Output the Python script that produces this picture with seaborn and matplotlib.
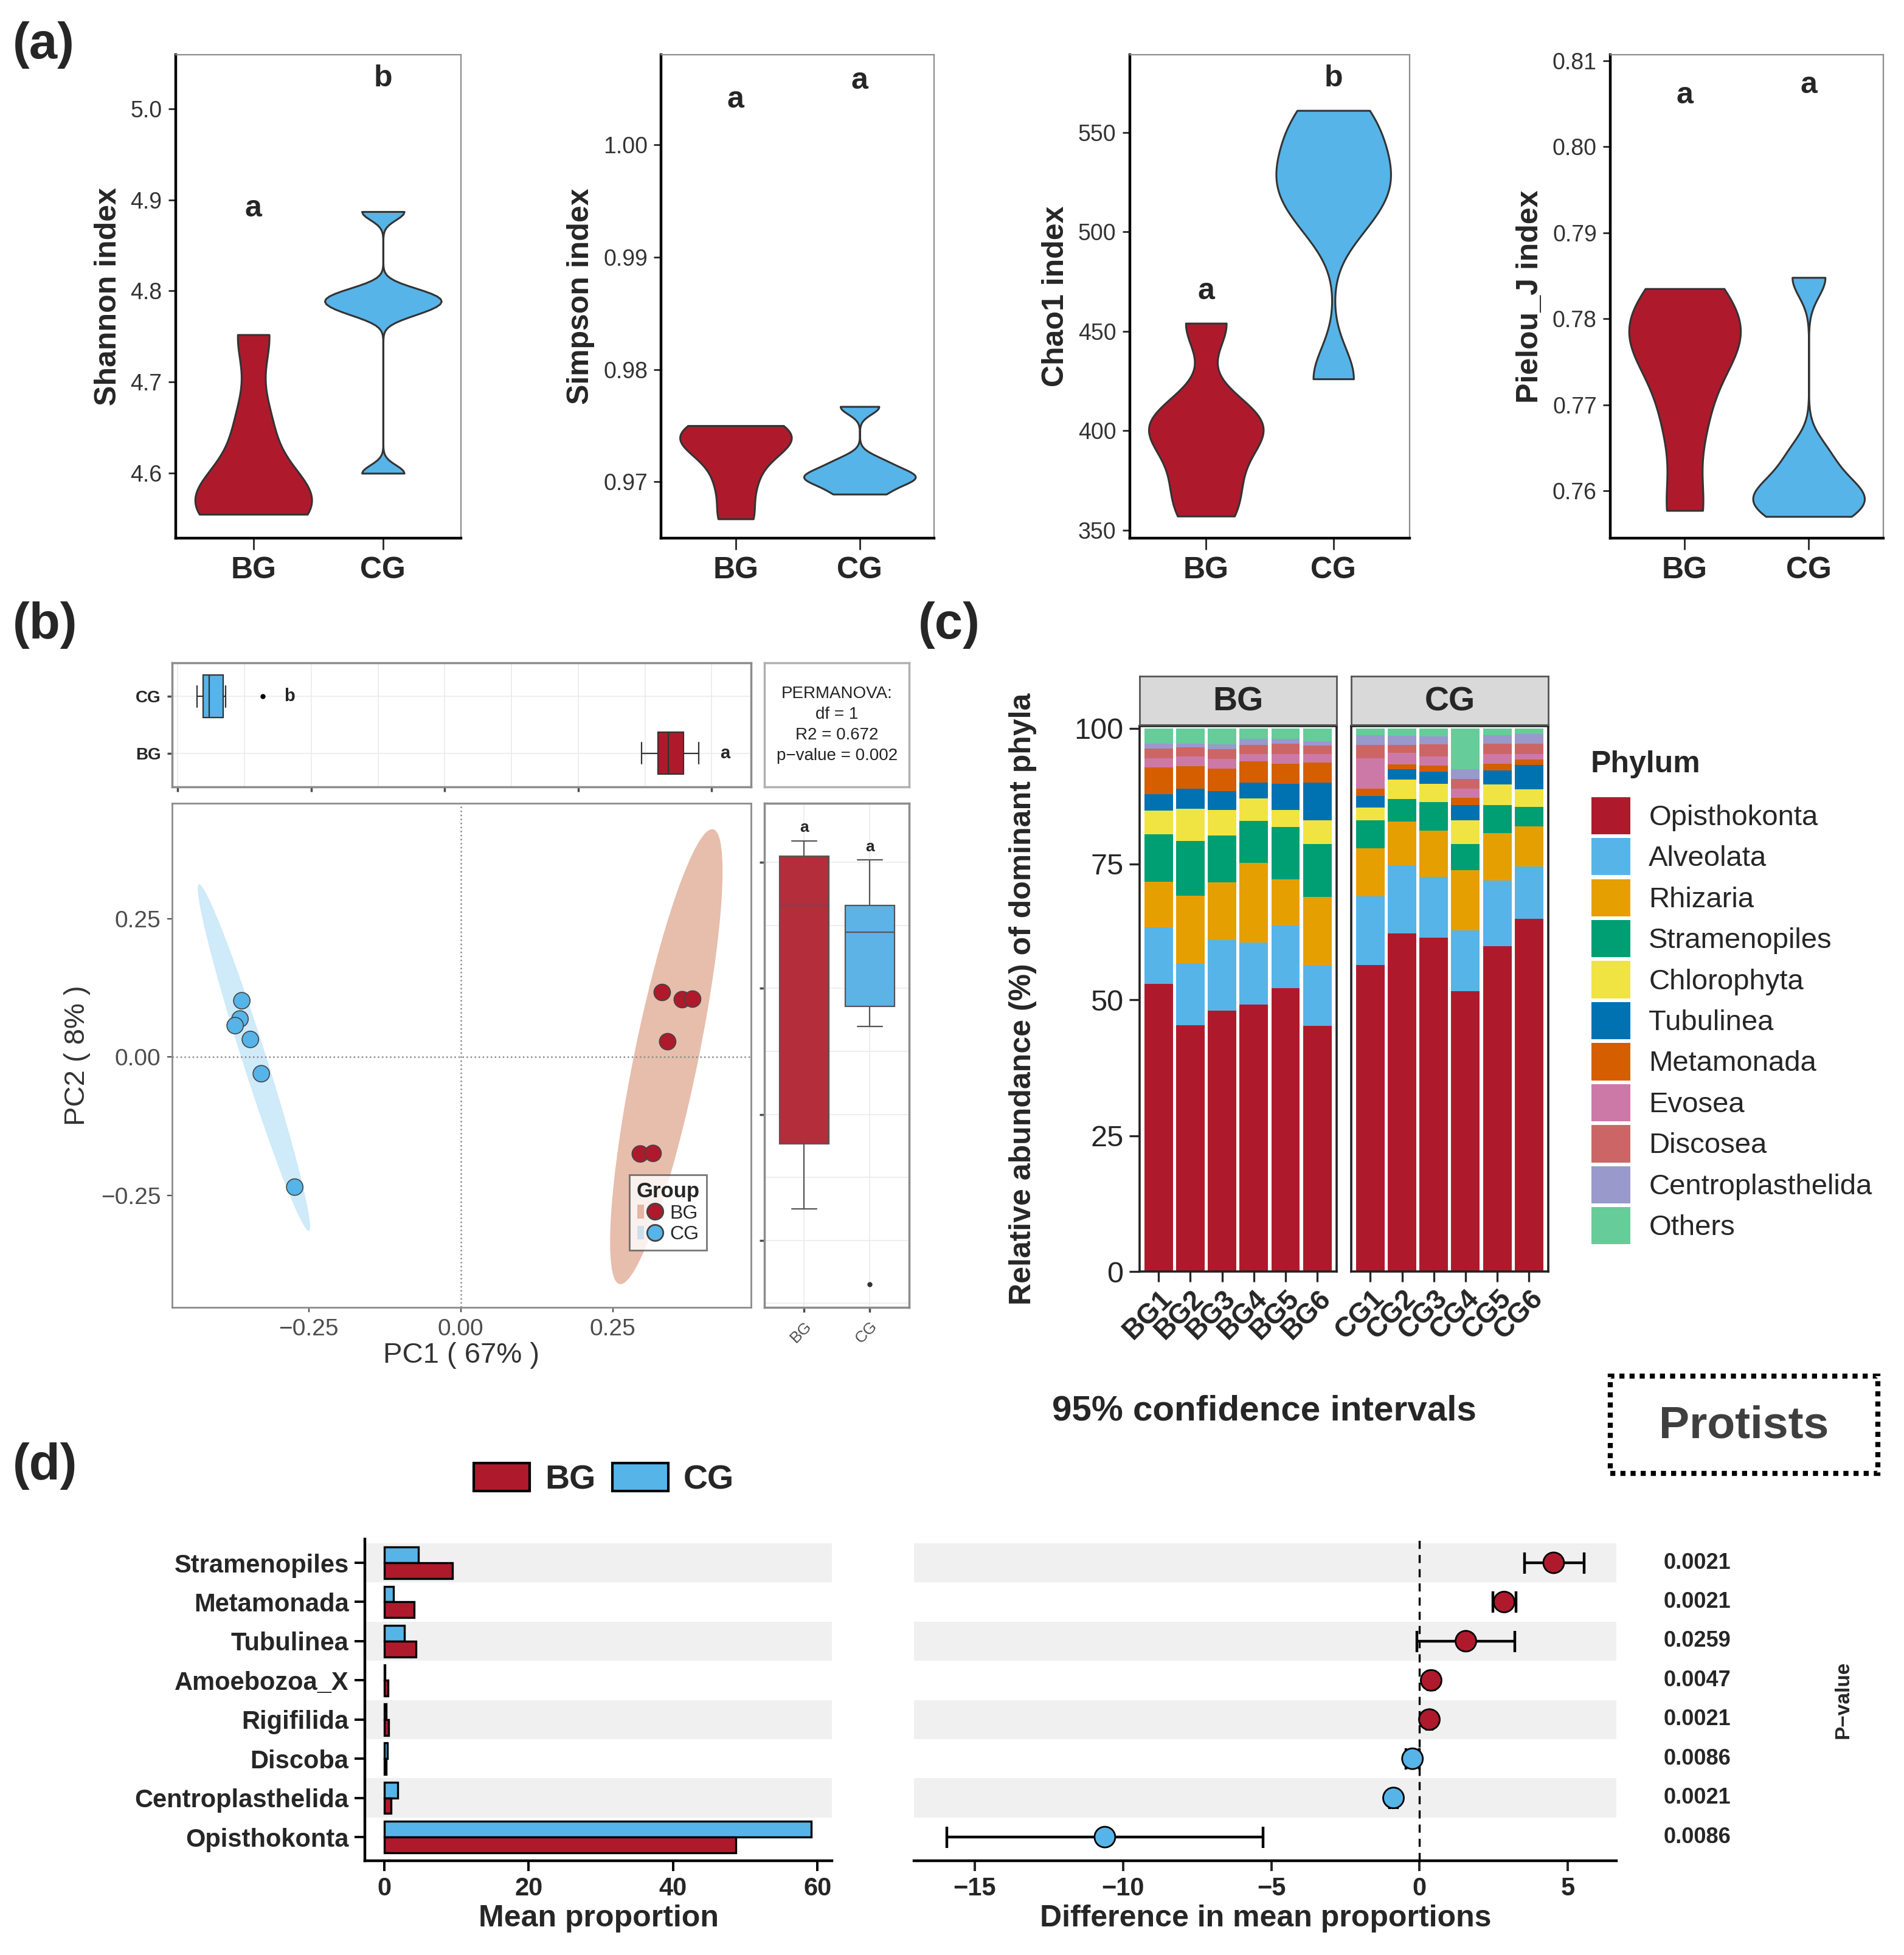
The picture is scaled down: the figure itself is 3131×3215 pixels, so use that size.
import numpy as np
import pandas as pd
import matplotlib
matplotlib.use("Agg")
import matplotlib.pyplot as plt
import matplotlib.transforms as mtransforms
from matplotlib.patches import Ellipse, Patch, Rectangle
from matplotlib.lines import Line2D
from matplotlib.legend_handler import HandlerTuple
from matplotlib.ticker import MultipleLocator
import seaborn as sns

sns.set_theme(style="ticks")
plt.rcParams["font.family"] = ["Liberation Sans", "DejaVu Sans"]
plt.rcParams["axes.unicode_minus"] = True

RED = "#AE1A2C"
BLUE = "#56B4E9"
GROUP_PAL = {"BG": RED, "CG": BLUE}

# ---------------- data ----------------
# (a) alpha diversity, six samples per group
alpha_group = ["BG"] * 6 + ["CG"] * 6
shannon = [4.555, 4.561, 4.572, 4.590, 4.655, 4.752,
           4.600, 4.776, 4.786, 4.791, 4.800, 4.887]
simpson = [0.9667, 0.9700, 0.9728, 0.9737, 0.9744, 0.9750,
           0.9689, 0.9700, 0.9704, 0.9708, 0.9718, 0.9767]
chao1 = [357, 375, 395, 402, 410, 454,
         426, 505, 521, 530, 546, 561]
pielou = [0.7577, 0.7680, 0.7755, 0.7775, 0.7800, 0.7835,
          0.7570, 0.7584, 0.7594, 0.7608, 0.7642, 0.7848]

# (b) PCoA scores
pc_group = ["BG"] * 6 + ["CG"] * 6
pc1 = [0.331, 0.364, 0.381, 0.340, 0.295, 0.316,
       -0.360, -0.363, -0.371, -0.346, -0.328, -0.273]
pc2 = [0.117, 0.104, 0.105, 0.028, -0.175, -0.174,
       0.102, 0.069, 0.057, 0.032, -0.030, -0.235]

# (c) relative abundance of dominant phyla
sample_ids = ["BG1", "BG2", "BG3", "BG4", "BG5", "BG6",
              "CG1", "CG2", "CG3", "CG4", "CG5", "CG6"]
phyla = ["Opisthokonta", "Alveolata", "Rhizaria", "Stramenopiles", "Chlorophyta",
         "Tubulinea", "Metamonada", "Evosea", "Discosea", "Centroplasthelida", "Others"]
phyla_colors = ["#AE1A2C", "#56B4E9", "#E69F00", "#009E73", "#F0E442", "#0072B2",
                "#D55E00", "#CC79A7", "#CC6666", "#9999CC", "#66CC99"]
opisthokonta = [52.9, 45.3, 48.0, 49.1, 52.2, 45.2, 56.4, 62.2, 61.5, 51.6, 59.9, 64.9]
alveolata = [10.4, 11.4, 13.0, 11.4, 11.5, 11.1, 12.7, 12.6, 11.1, 11.2, 12.1, 9.7]
rhizaria = [8.5, 12.5, 10.6, 14.7, 8.5, 12.6, 8.8, 8.0, 8.5, 11.1, 8.7, 7.3]
stramenopiles = [8.7, 10.1, 8.7, 7.7, 9.6, 9.8, 5.1, 4.2, 5.3, 4.8, 5.1, 3.6]
chlorophyta = [4.3, 5.9, 4.6, 4.2, 3.1, 4.4, 2.4, 3.5, 3.4, 4.4, 3.9, 3.3]
tubulinea = [3.1, 3.7, 3.5, 2.9, 4.9, 6.9, 2.1, 1.9, 2.2, 2.8, 2.5, 4.4]
metamonada = [4.9, 4.1, 4.2, 3.9, 3.7, 3.7, 1.4, 1.0, 1.1, 1.3, 1.3, 1.0]
evosea = [1.7, 1.8, 1.8, 1.3, 1.7, 1.5, 5.6, 2.1, 1.7, 1.7, 1.7, 1.0]
discosea = [1.8, 1.7, 1.7, 1.7, 2.0, 1.6, 2.4, 1.4, 2.2, 1.8, 1.9, 2.0]
centroplasthelida = [0.8, 0.7, 0.9, 1.1, 0.8, 0.8, 1.8, 1.7, 1.5, 1.8, 1.6, 1.8]
others = [2.9, 2.8, 3.0, 2.0, 2.0, 2.4, 1.3, 1.4, 1.5, 7.5, 1.3, 1.0]

# (d) STAMP-style comparison
taxa_d = ["Stramenopiles", "Metamonada", "Tubulinea", "Amoebozoa_X",
          "Rigifilida", "Discoba", "Centroplasthelida", "Opisthokonta"]
mean_bg = [9.44, 4.20, 4.40, 0.55, 0.60, 0.30, 1.00, 48.70]
mean_cg = [4.76, 1.30, 2.80, 0.15, 0.25, 0.50, 1.90, 59.10]
diff_mean = [4.52, 2.85, 1.56, 0.39, 0.33, -0.24, -0.88, -10.61]
ci_low = [3.53, 2.48, -0.09, 0.27, 0.24, -0.46, -1.02, -15.94]
ci_high = [5.55, 3.25, 3.22, 0.51, 0.42, 0.00, -0.74, -5.28]
p_values = ["0.0021", "0.0021", "0.0259", "0.0047", "0.0021", "0.0086", "0.0021", "0.0086"]

# ---------------- layout helpers (reference pixels at half scale) ----------------
W, H = 1528.8, 1569.8


def rect(x0, y0, x1, y1):
    return [x0 / W, 1 - y1 / H, (x1 - x0) / W, (y1 - y0) / H]


def fx(x):
    return x / W


def fy(y):
    return 1 - y / H


def nrd0(kde):
    # R's default violin bandwidth
    d = np.asarray(kde.dataset).ravel()
    sd = d.std(ddof=1)
    q75, q25 = np.percentile(d, [75, 25])
    lo = min(sd, (q75 - q25) / 1.34)
    return 0.9 * lo * len(d) ** -0.2 / sd


def conf_ellipse(x, y, scale, **kw):
    cov = np.cov(x, y)
    vals, vecs = np.linalg.eigh(cov)
    order = vals.argsort()[::-1]
    vals, vecs = vals[order], vecs[:, order]
    angle = np.degrees(np.arctan2(vecs[1, 0], vecs[0, 0]))
    w, h = 2 * scale * np.sqrt(vals)
    return Ellipse((np.mean(x), np.mean(y)), w, h, angle=angle, **kw)


fig = plt.figure(figsize=(3131 / 200, 3215 / 200), dpi=200)
fig.patch.set_facecolor("white")

# ---------------- (a) violins ----------------
alpha_specs = [
    ("Shannon index", shannon, (4.529, 5.059), [4.6, 4.7, 4.8, 4.9, 5.0], "{:.1f}",
     ("a", "b"), (4.890, 5.033), (141, 370)),
    ("Simpson index", simpson, (0.965, 1.008), [0.97, 0.98, 0.99, 1.00], "{:.2f}",
     ("a", "a"), (1.0040, 1.0057), (531, 750)),
    ("Chao1 index", chao1, (346, 589), [350, 400, 450, 500, 550], "{:.0f}",
     ("a", "b"), (470, 577), (907, 1132)),
    ("Pielou_J index", pielou, (0.7545, 0.8107), [0.76, 0.77, 0.78, 0.79, 0.80, 0.81], "{:.2f}",
     ("a", "a"), (0.8060, 0.8072), (1293, 1512)),
]

for label, vals, ylim, ticks, fmt, letters, letter_y, (x0, x1) in alpha_specs:
    ax = fig.add_axes(rect(x0, 44, x1, 432))
    df = pd.DataFrame({"Group": alpha_group, "value": vals})
    sns.violinplot(data=df, x="Group", y="value", hue="Group", palette=GROUP_PAL,
                   saturation=1, cut=0, inner=None, width=0.9, linewidth=1.1,
                   linecolor="#333333", bw_method=nrd0, legend=False, ax=ax)
    ax.set_xlim(-0.6, 1.6)
    ax.set_ylim(*ylim)
    ax.set_yticks(ticks)
    ax.set_yticklabels([fmt.format(t) for t in ticks])
    ax.set_xlabel("")
    ax.set_ylabel(label, fontsize=18, fontweight="bold", labelpad=5)
    ax.tick_params(axis="y", labelsize=13.5, labelcolor="#333333", length=4.5, width=1)
    ax.tick_params(axis="x", labelsize=18, length=7, width=1, pad=4)
    for t in ax.get_xticklabels():
        t.set_fontweight("bold")
    for s in ["top", "right"]:
        ax.spines[s].set_color("#8C8C8C")
        ax.spines[s].set_linewidth(0.8)
    for s in ["left", "bottom"]:
        ax.spines[s].set_color("black")
        ax.spines[s].set_linewidth(1.6)
    for xi, (lt, ly) in enumerate(zip(letters, letter_y)):
        ax.text(xi, ly, lt, ha="center", va="center", fontsize=18, fontweight="bold")

# ---------------- (b) PCoA ----------------
pcoa = pd.DataFrame({"Group": pc_group, "PC1": pc1, "PC2": pc2})
ELL_FILL = {"BG": ("#D17D5B", 0.5), "CG": (BLUE, 0.28)}
ELL_SCALE = {"BG": 2.95, "CG": 2.55}

ax_m = fig.add_axes(rect(138, 645, 603, 1050))
for g in ["CG", "BG"]:
    sub = pcoa[pcoa["Group"] == g]
    col, al = ELL_FILL[g]
    ax_m.add_patch(conf_ellipse(sub["PC1"].values, sub["PC2"].values, ELL_SCALE[g],
                                facecolor=col, alpha=al, edgecolor="none", zorder=1))
ax_m.axvline(0, color="#8C8C8C", ls=":", lw=0.9, zorder=2)
ax_m.axhline(0, color="#8C8C8C", ls=":", lw=0.9, zorder=2)
sns.scatterplot(data=pcoa, x="PC1", y="PC2", hue="Group", palette=GROUP_PAL, s=95,
                edgecolor="#444444", linewidth=0.6, legend=False, ax=ax_m, zorder=3)
ax_m.set_xlim(-0.475, 0.477)
ax_m.set_ylim(-0.453, 0.459)
ax_m.set_xticks([-0.25, 0, 0.25])
ax_m.set_xticklabels(["\u22120.25", "0.00", "0.25"])
ax_m.set_yticks([-0.25, 0, 0.25])
ax_m.set_yticklabels(["\u22120.25", "0.00", "0.25"])
ax_m.tick_params(labelsize=14, labelcolor="#4D4D4D", color="#4D4D4D", length=3, width=0.8)
ax_m.set_xlabel("PC1 ( 67% )", fontsize=17, color="#333333", labelpad=1)
ax_m.set_ylabel("PC2 ( 8% )", fontsize=17, color="#333333", labelpad=6)
for s in ax_m.spines.values():
    s.set_color("#8C8C8C")
    s.set_linewidth(1)
handles = [(Patch(facecolor=ELL_FILL[g][0], alpha=ELL_FILL[g][1], edgecolor="none"),
            Line2D([], [], marker="o", ls="", markerfacecolor=GROUP_PAL[g],
                   markeredgecolor="#444444", markersize=9.5)) for g in ["BG", "CG"]]
leg = ax_m.legend(handles, ["BG", "CG"], handler_map={tuple: HandlerTuple(ndivide=None)},
                  title="Group", loc="lower right", bbox_to_anchor=(0.94, 0.094),
                  fontsize=11.5, title_fontproperties={"weight": "bold", "size": 12.5},
                  frameon=True, fancybox=False, edgecolor="#555555", borderpad=0.35,
                  handlelength=1.1, handletextpad=0.6, labelspacing=0.15)
leg.get_frame().set_linewidth(1)

# top marginal box (PC1)
ax_t = fig.add_axes(rect(138, 532, 603, 632))
sns.boxplot(data=pcoa, x="PC1", y="Group", order=["CG", "BG"], hue="Group",
            palette=GROUP_PAL, saturation=1, width=0.75, linecolor="#333333",
            linewidth=0.8, fliersize=2, legend=False, ax=ax_t,
            flierprops=dict(marker="o", markerfacecolor="black", markeredgecolor="black"))
ax_t.set_xlim(-0.409, 0.459)
ax_t.set_ylim(1.6, -0.6)
ax_t.set_xticks([-0.4, -0.2, 0, 0.2, 0.4])
ax_t.xaxis.set_minor_locator(MultipleLocator(0.1))
ax_t.set_xticklabels([])
ax_t.grid(True, which="both", color="#EBEBEB", lw=0.6)
ax_t.set_axisbelow(True)
ax_t.set_xlabel("")
ax_t.set_ylabel("")
ax_t.tick_params(axis="y", labelsize=10, length=3, color="#4D4D4D")
ax_t.tick_params(axis="x", which="major", length=3, color="#4D4D4D")
ax_t.tick_params(axis="x", which="minor", length=0)
for t in ax_t.get_yticklabels():
    t.set_fontweight("bold")
for s in ax_t.spines.values():
    s.set_color("#8C8C8C")
ax_t.text(-0.233, 0, "b", ha="center", va="center", fontsize=10.5, fontweight="bold")
ax_t.text(0.420, 1, "a", ha="center", va="center", fontsize=10.5, fontweight="bold")

# PERMANOVA box
ax_i = fig.add_axes(rect(614, 532, 730, 632))
ax_i.set_xticks([])
ax_i.set_yticks([])
for s in ax_i.spines.values():
    s.set_color("#B0B0B0")
ax_i.text(0.5, 0.5, "PERMANOVA:\ndf = 1\nR2 = 0.672\np\u2212value = 0.002",
          ha="center", va="center", fontsize=10, linespacing=1.4, color="#222222",
          transform=ax_i.transAxes)

# right marginal box (PC2)
ax_r = fig.add_axes(rect(614, 645, 730, 1050))
sns.boxplot(data=pcoa, x="Group", y="PC2", order=["BG", "CG"], hue="Group",
            palette={"BG": "#B32D3A", "CG": "#5DB3E6"}, saturation=1, width=0.75,
            linecolor="#555555", linewidth=0.8, fliersize=2, legend=False, ax=ax_r,
            flierprops=dict(marker="o", markerfacecolor="#333333", markeredgecolor="#333333"))
ax_r.set_xlim(-0.6, 1.6)
ax_r.set_ylim(-0.2535, 0.147)
ax_r.set_yticks([-0.2, -0.1, 0, 0.1])
ax_r.yaxis.set_minor_locator(MultipleLocator(0.05))
ax_r.set_yticklabels([])
ax_r.grid(True, which="both", color="#EBEBEB", lw=0.6)
ax_r.set_axisbelow(True)
ax_r.set_xlabel("")
ax_r.set_ylabel("")
ax_r.tick_params(axis="y", which="major", length=3, color="#4D4D4D")
ax_r.tick_params(axis="y", which="minor", length=0)
ax_r.tick_params(axis="x", length=3, color="#4D4D4D", labelsize=9.5, labelcolor="#4D4D4D")
plt.setp(ax_r.get_xticklabels(), rotation=45, ha="right", rotation_mode="anchor")
for s in ax_r.spines.values():
    s.set_color("#8C8C8C")
ax_r.text(0, 0.1277, "a", ha="center", va="center", fontsize=9.5, fontweight="bold")
ax_r.text(1, 0.112, "a", ha="center", va="center", fontsize=9.5, fontweight="bold")

# ---------------- (c) stacked composition ----------------
comp = pd.DataFrame([opisthokonta, alveolata, rhizaria, stramenopiles, chlorophyta, tubulinea,
                     metamonada, evosea, discosea, centroplasthelida, others],
                    index=phyla, columns=sample_ids).T

facets = [("BG", sample_ids[:6], (915, 1073)), ("CG", sample_ids[6:], (1085, 1243))]
for fi, (gname, ids, (x0, x1)) in enumerate(facets):
    ax = fig.add_axes(rect(x0, 583, x1, 1021))
    sub = comp.loc[ids]
    xpos = np.arange(len(ids))
    bottom = np.zeros(len(ids))
    for ph, col in zip(phyla, phyla_colors):
        ax.bar(xpos, sub[ph].values, bottom=bottom, width=0.9, color=col, linewidth=0)
        bottom += sub[ph].values
    ax.set_xlim(-0.6, 5.6)
    ax.set_ylim(0, 100.4)
    ax.set_xticks(xpos)
    ax.set_xticklabels(ids, rotation=45, ha="right", rotation_mode="anchor",
                       fontsize=16.5, fontweight="bold")
    ax.tick_params(axis="x", length=6, width=1.2, pad=2)
    if fi == 0:
        ax.set_yticks([0, 25, 50, 75, 100])
        ax.tick_params(axis="y", labelsize=17.5, length=6, width=1.2)
        ax.set_ylabel("Relative abundance (%) of dominant phyla", fontsize=18,
                      fontweight="bold", labelpad=22)
    else:
        ax.set_yticks([])
    for s in ax.spines.values():
        s.set_color("#222222")
        s.set_linewidth(1.3)
    ax_s = fig.add_axes(rect(x0, 543, x1, 582))
    ax_s.set_facecolor("#D9D9D9")
    ax_s.set_xticks([])
    ax_s.set_yticks([])
    for s in ax_s.spines.values():
        s.set_color("#555555")
        s.set_linewidth(1)
    ax_s.text(0.5, 0.47, gname, ha="center", va="center", fontsize=20, fontweight="bold",
              transform=ax_s.transAxes)

phy_handles = [Patch(facecolor=c, edgecolor="none") for c in phyla_colors]
fig.text(fx(1277), fy(614), "Phylum", ha="left", va="center", fontsize=18, fontweight="bold")
fig.legend(phy_handles, phyla, loc="upper left", bbox_to_anchor=(fx(1278), fy(640)),
           frameon=False, fontsize=17,
           handlelength=1.34, handleheight=1.62, labelspacing=0.13, handletextpad=0.65,
           borderaxespad=0, borderpad=0)

# ---------------- (d) mean proportions and differences ----------------
bars = pd.DataFrame({"taxon": taxa_d * 2,
                     "Group": ["BG"] * len(taxa_d) + ["CG"] * len(taxa_d),
                     "value": mean_bg + mean_cg})
ax_b = fig.add_axes(rect(293, 1236, 668, 1494))
for i in range(0, len(taxa_d), 2):
    ax_b.axhspan(i - 0.5, i + 0.5, color="#F0F0F0", zorder=0, lw=0)
sns.barplot(data=bars, x="value", y="taxon", hue="Group", order=taxa_d,
            hue_order=["CG", "BG"], palette=GROUP_PAL, saturation=1, orient="h",
            width=0.8, edgecolor="black", linewidth=1.2, legend=False, ax=ax_b)
ax_b.set_ylim(7.6, -0.6)
ax_b.set_xlim(-2.65, 62)
ax_b.set_xticks([0, 20, 40, 60])
ax_b.set_xlabel("Mean proportion", fontsize=18, fontweight="bold", labelpad=2)
ax_b.set_ylabel("")
ax_b.tick_params(axis="both", labelsize=15, length=6, width=1.4, color="black")
for t in ax_b.get_xticklabels() + ax_b.get_yticklabels():
    t.set_fontweight("bold")
for s in ["top", "right"]:
    ax_b.spines[s].set_visible(False)
for s in ["left", "bottom"]:
    ax_b.spines[s].set_linewidth(1.6)
    ax_b.spines[s].set_color("black")

ax_c = fig.add_axes(rect(734, 1236, 1298, 1494))
for i in range(0, len(taxa_d), 2):
    ax_c.axhspan(i - 0.5, i + 0.5, color="#F0F0F0", zorder=0, lw=0)
ypos = np.arange(len(taxa_d))
dm = np.array(diff_mean)
ax_c.axvline(0, color="black", ls=(0, (4, 3)), lw=1.2, zorder=1)
ax_c.errorbar(dm, ypos, xerr=[dm - np.array(ci_low), np.array(ci_high) - dm], fmt="none",
              ecolor="black", elinewidth=1.6, capsize=6.3, capthick=1.6, zorder=2)
diff_df = pd.DataFrame({"diff": dm, "y": ypos,
                        "enriched": np.where(dm > 0, "BG", "CG")})
sns.scatterplot(data=diff_df, x="diff", y="y", hue="enriched", palette=GROUP_PAL, s=150,
                edgecolor="black", linewidth=1.0, legend=False, ax=ax_c, zorder=3)
ax_c.set_ylim(7.6, -0.6)
ax_c.set_xlim(-17.04, 6.64)
ax_c.set_xticks([-15, -10, -5, 0, 5])
ax_c.set_yticks([])
ax_c.set_xlabel("Difference in mean proportions", fontsize=18, fontweight="bold", labelpad=2)
ax_c.set_ylabel("")
ax_c.tick_params(axis="x", labelsize=15, length=6, width=1.4)
for t in ax_c.get_xticklabels():
    t.set_fontweight("bold")
for s in ["top", "right", "left"]:
    ax_c.spines[s].set_visible(False)
ax_c.spines["bottom"].set_linewidth(1.6)
ax_c.spines["bottom"].set_color("black")
blend = mtransforms.blended_transform_factory(ax_c.transAxes, ax_c.transData)
for i, p in enumerate(p_values):
    ax_c.text(1.115, i, p, transform=blend, ha="center", va="center",
              fontsize=13, fontweight="bold")

fig.text(fx(1480), fy(1365), "P\u2212value", rotation=90, ha="center", va="center",
         fontsize=12, fontweight="bold")
fig.text(fx(1015), fy(1133), "95% confidence intervals", ha="center", va="center",
         fontsize=21, fontweight="bold")
fig.patches.append(Rectangle((fx(1293), fy(1183)), (1508 - 1293) / W, (1183 - 1105) / H,
                             transform=fig.transFigure, fill=False, edgecolor="black",
                             linewidth=3, linestyle=(0, (1, 1))))
fig.text(fx(1400), fy(1145), "Protists", ha="center", va="center", fontsize=27,
         fontweight="bold", color="#3F3F3F")

grp_handles = [Patch(facecolor=RED, edgecolor="black", linewidth=1.5),
               Patch(facecolor=BLUE, edgecolor="black", linewidth=1.5)]
leg_d = fig.legend(grp_handles, ["BG", "CG"], ncol=2, loc="center",
                   bbox_to_anchor=(fx(485), fy(1188)), frameon=False,
                   prop={"weight": "bold", "size": 20}, handlelength=1.65, handleheight=0.9,
                   handletextpad=0.45, columnspacing=0.5)

# ---------------- panel tags ----------------
for tag, (x, y) in {"(a)": (10, 36), "(b)": (10, 502), "(c)": (737, 502), "(d)": (10, 1177)}.items():
    fig.text(fx(x), fy(y), tag, ha="left", va="center", fontsize=30, fontweight="bold")

fig.savefig("out.png", dpi=200, facecolor="white")
